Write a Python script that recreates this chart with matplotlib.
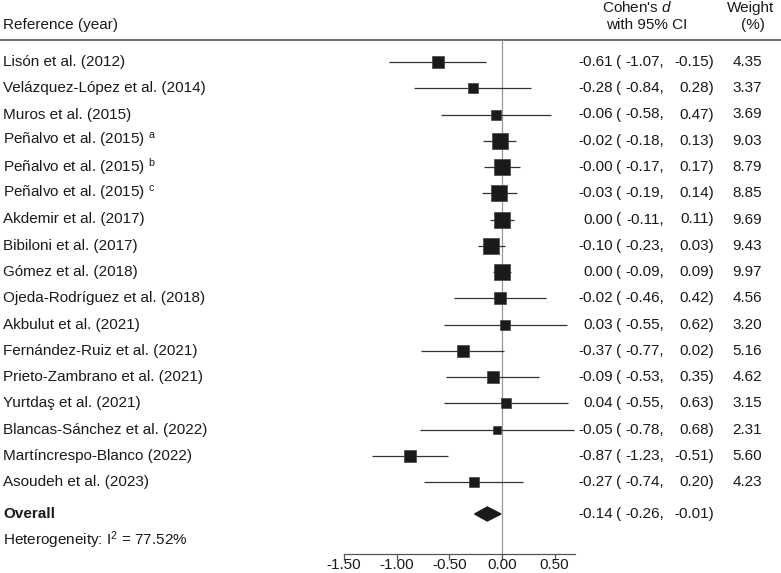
import numpy as np
import matplotlib
matplotlib.use("Agg")
import matplotlib.pyplot as plt
import matplotlib.transforms as mtransforms

plt.rcParams['font.family'] = ['Liberation Sans', 'DejaVu Sans']
plt.rcParams['mathtext.fontset'] = 'custom'
plt.rcParams['mathtext.rm'] = 'Liberation Sans'
plt.rcParams['mathtext.it'] = 'Liberation Sans:italic'
plt.rcParams['mathtext.bf'] = 'Liberation Sans:bold'

## ------------------
## Data
## ------------------
studies = [
    "Lisón et al. (2012)",
    "Velázquez-López et al. (2014)",
    "Muros et al. (2015)",
    r"Peñalvo et al. (2015) $^{\mathrm{a}}$",
    r"Peñalvo et al. (2015) $^{\mathrm{b}}$",
    r"Peñalvo et al. (2015) $^{\mathrm{c}}$",
    "Akdemir et al. (2017)",
    "Bibiloni et al. (2017)",
    "Gómez et al. (2018)",
    "Ojeda-Rodríguez et al. (2018)",
    "Akbulut et al. (2021)",
    "Fernández-Ruiz et al. (2021)",
    "Prieto-Zambrano et al. (2021)",
    "Yurtdaş et al. (2021)",
    "Blancas-Sánchez et al. (2022)",
    "Martíncrespo-Blanco (2022)",
    "Asoudeh et al. (2023)",
]
effect = [-0.61, -0.28, -0.06, -0.02, -0.0, -0.03, 0.00, -0.10, 0.00, -0.02,
          0.03, -0.37, -0.09, 0.04, -0.05, -0.87, -0.27]
ci_low = [-1.07, -0.84, -0.58, -0.18, -0.17, -0.19, -0.11, -0.23, -0.09, -0.46,
          -0.55, -0.77, -0.53, -0.55, -0.78, -1.23, -0.74]
ci_high = [-0.15, 0.28, 0.47, 0.13, 0.17, 0.14, 0.11, 0.03, 0.09, 0.42,
           0.62, 0.02, 0.35, 0.63, 0.68, -0.51, 0.20]
weights = [4.35, 3.37, 3.69, 9.03, 8.79, 8.85, 9.69, 9.43, 9.97, 4.56,
           3.20, 5.16, 4.62, 3.15, 2.31, 5.60, 4.23]
overall = (-0.14, -0.26, -0.01)
i2 = 77.52
xticks = [-1.50, -1.00, -0.50, 0.00, 0.50]

## ------------------
## Layout (pixels of a 781x573 figure)
## ------------------
W, H = 781, 573
px_per_unit = 105.3
x_zero = 502
row0, row_step = 62, 26.25

def ypx(p):
    return (p - row0) / row_step

text_color = "#1a1a1a"
fs = 11

fig = plt.figure(figsize=(W / 100, H / 100), dpi=100)
ax = fig.add_axes([0, 0, 1, 1])
ax.set_xlim(-x_zero / px_per_unit, (W - x_zero) / px_per_unit)
ax.set_ylim(ypx(H), ypx(0))
for s in ["top", "left", "right"]:
    ax.spines[s].set_visible(False)
ax.set_yticks([])

# bottom axis
y_axis = ypx(554)
ax.spines["bottom"].set_position(("data", y_axis))
ax.spines["bottom"].set_bounds(-1.5, 0.69)
ax.spines["bottom"].set_color("#555555")
ax.spines["bottom"].set_linewidth(0.9)
ax.set_xticks(xticks)
ax.set_xticklabels([f"{t:.2f}" for t in xticks])
ax.tick_params(axis="x", direction="out", length=4, width=0.9, color="#555555",
               labelsize=fs, labelcolor=text_color, pad=-1)

# header line and zero line
ax.axhline(ypx(40), color="#666666", lw=1.3)
ax.vlines(0, ypx(40), y_axis, color="#999999", lw=0.9)

rows = np.arange(len(studies))
ax.hlines(rows, ci_low, ci_high, color="#333333", lw=0.9)
for r, e, w in zip(rows, effect, weights):
    ax.plot(e, r, marker="s", ms=3.8 * np.sqrt(w), color="#1a1a1a", mec="#444444", mew=0.5)

# overall diamond
y_ov = ypx(514)
dh = 7 / row_step
ax.fill([overall[1], overall[0], overall[2], overall[0]],
        [y_ov, y_ov - dh, y_ov, y_ov + dh], color="#1a1a1a")

## ------------------
## Text columns
## ------------------
tr = mtransforms.blended_transform_factory(fig.transFigure, ax.transData)

def fx(p):
    return p / W

ax.text(fx(3), ypx(25), "Reference (year)", transform=tr, fontsize=fs, color=text_color, va="center")
ax.text(fx(637), ypx(8), r"Cohen's $\mathit{d}$", transform=tr, fontsize=fs, color=text_color, va="center", ha="center")
ax.text(fx(647), ypx(25), "with 95% CI", transform=tr, fontsize=fs, color=text_color, va="center", ha="center")
ax.text(fx(751), ypx(8), "Weight", transform=tr, fontsize=fs, color=text_color, va="center", ha="center")
ax.text(fx(753), ypx(25), "(%)", transform=tr, fontsize=fs, color=text_color, va="center", ha="center")

def ci_text(y, e, lo, hi, **kw):
    ax.text(fx(613), y, f"{e:.2f}", transform=tr, ha="right", va="center", fontsize=fs, color=text_color, **kw)
    ax.text(fx(616), y, "(", transform=tr, ha="left", va="center", fontsize=fs, color=text_color, **kw)
    ax.text(fx(664), y, f"{lo:.2f},", transform=tr, ha="right", va="center", fontsize=fs, color=text_color, **kw)
    ax.text(fx(714), y, f"{hi:.2f})", transform=tr, ha="right", va="center", fontsize=fs, color=text_color, **kw)

for r, name, e, lo, hi, w in zip(rows, studies, effect, ci_low, ci_high, weights):
    ax.text(fx(3), r, name, transform=tr, va="center", fontsize=fs, color=text_color)
    ci_text(r, e, lo, hi)
    ax.text(fx(762), r, f"{w:.2f}", transform=tr, ha="right", va="center", fontsize=fs, color=text_color)

ax.text(fx(3), y_ov, "Overall", transform=tr, va="center", fontsize=fs, color=text_color, fontweight="bold")
ci_text(y_ov, *overall)
ax.text(fx(3), ypx(540), f"Heterogeneity: I$^{{\\mathit{{2}}}}$ = {i2:.2f}%", transform=tr, va="center",
        fontsize=fs, color=text_color)

fig.savefig("out.png", dpi=100)
